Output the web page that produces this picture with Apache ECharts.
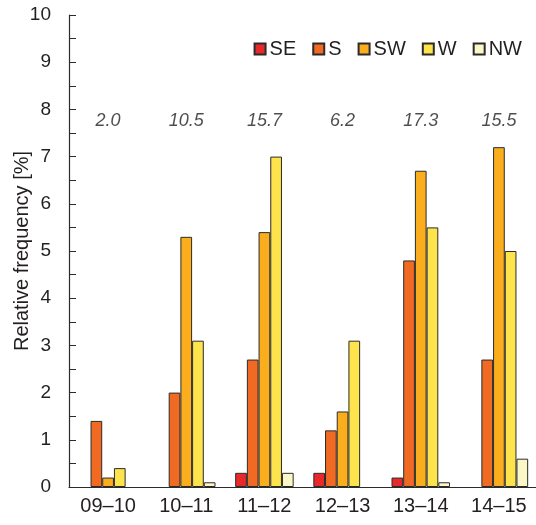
<!DOCTYPE html>
<html>
<head>
<meta charset="utf-8">
<script src="https://cdn.jsdelivr.net/npm/echarts@6/dist/echarts.min.js"></script>
<style>
  html, body { margin: 0; padding: 0; background: #fff; }
  #chart { width: 536px; height: 525px; }
</style>
</head>
<body>
<div id="chart"></div>
<script>
var seasons = ['09–10', '10–11', '11–12', '12–13', '13–14', '14–15'];
var seSE = [0, 0, 0.3, 0.3, 0.2, 0];
var seS = [1.4, 2.0, 2.7, 1.2, 4.8, 2.7];
var seSW = [0.2, 5.3, 5.4, 1.6, 6.7, 7.2];
var seW = [0.4, 3.1, 7.0, 3.1, 5.5, 5.0];
var seNW = [0, 0.1, 0.3, 0, 0.1, 0.6];
var totals = ['2.0', '10.5', '15.7', '6.2', '17.3', '15.5'];
var yTicks = [0, 1, 2, 3, 4, 5, 6, 7, 8, 9, 10];

var font = 'Liberation Sans, Arial, Helvetica, sans-serif';
var edge = '#2b2b2b';
var ink = '#231f20';

// zero values are not drawn in the original, so skip them
function barSeries(name, data, color) {
    return {
        name: name,
        type: 'bar',
        data: data.map(function (v) { return v === 0 ? '-' : v; }),
        barWidth: 11.7,
        barGap: '0%',
        itemStyle: {
            color: color,
            borderColor: edge,
            borderWidth: 1
        }
    };
}

var chart = echarts.init(document.getElementById('chart'));
var option = {
    animation: false,
    textStyle: { fontFamily: font },
    grid: { left: 69, right: -2, top: 15, bottom: 38, outerBoundsMode: 'none', containLabel: false },
    legend: {
        top: 34,
        right: 9,
        itemWidth: 11,
        itemHeight: 11,
        itemGap: 16,
        icon: 'rect',
        textStyle: { fontSize: 20, color: ink, fontFamily: font, padding: [0, 0, 0, -1] },
        data: ['SE', 'S', 'SW', 'W', 'NW']
    },
    xAxis: {
        type: 'category',
        data: seasons,
        axisLine: { lineStyle: { color: edge, width: 1.2 } },
        axisTick: { inside: true, length: 6, lineStyle: { color: edge } },
        axisLabel: { fontSize: 20, color: ink, margin: 9 }
    },
    yAxis: {
        type: 'value',
        min: 0,
        max: 10,
        interval: 1,
        name: 'Relative frequency [%]',
        nameLocation: 'middle',
        nameGap: 37,
        nameMoveOverlap: false,
        nameTextStyle: { fontSize: 20, color: ink },
        axisLine: { show: true, lineStyle: { color: edge, width: 1.2 } },
        axisTick: { show: true, inside: true, length: 7, lineStyle: { color: edge } },
        minorTick: { show: true, splitNumber: 2, length: 7, lineStyle: { color: edge } },
        axisLabel: {
            fontSize: 19,
            color: ink,
            margin: 18,
            formatter: function (v) { return yTicks.indexOf(v) >= 0 ? String(v) : ''; }
        },
        splitLine: { show: false }
    },
    series: [
        barSeries('SE', seSE, '#e8282b'),
        barSeries('S', seS, '#f06a23'),
        barSeries('SW', seSW, '#fbae1d'),
        barSeries('W', seW, '#fde34c'),
        barSeries('NW', seNW, '#fcf7c6'),
        {
            name: 'totals',
            type: 'scatter',
            symbolSize: 0,
            silent: true,
            data: seasons.map(function (s, i) { return [s, 7.75, totals[i]]; }),
            label: {
                show: true,
                position: 'inside',
                fontSize: 18,
                fontStyle: 'italic',
                color: ink,
                formatter: function (p) { return p.data[2]; }
            }
        }
    ]
};
chart.setOption(option);
</script>
</body>
</html>
